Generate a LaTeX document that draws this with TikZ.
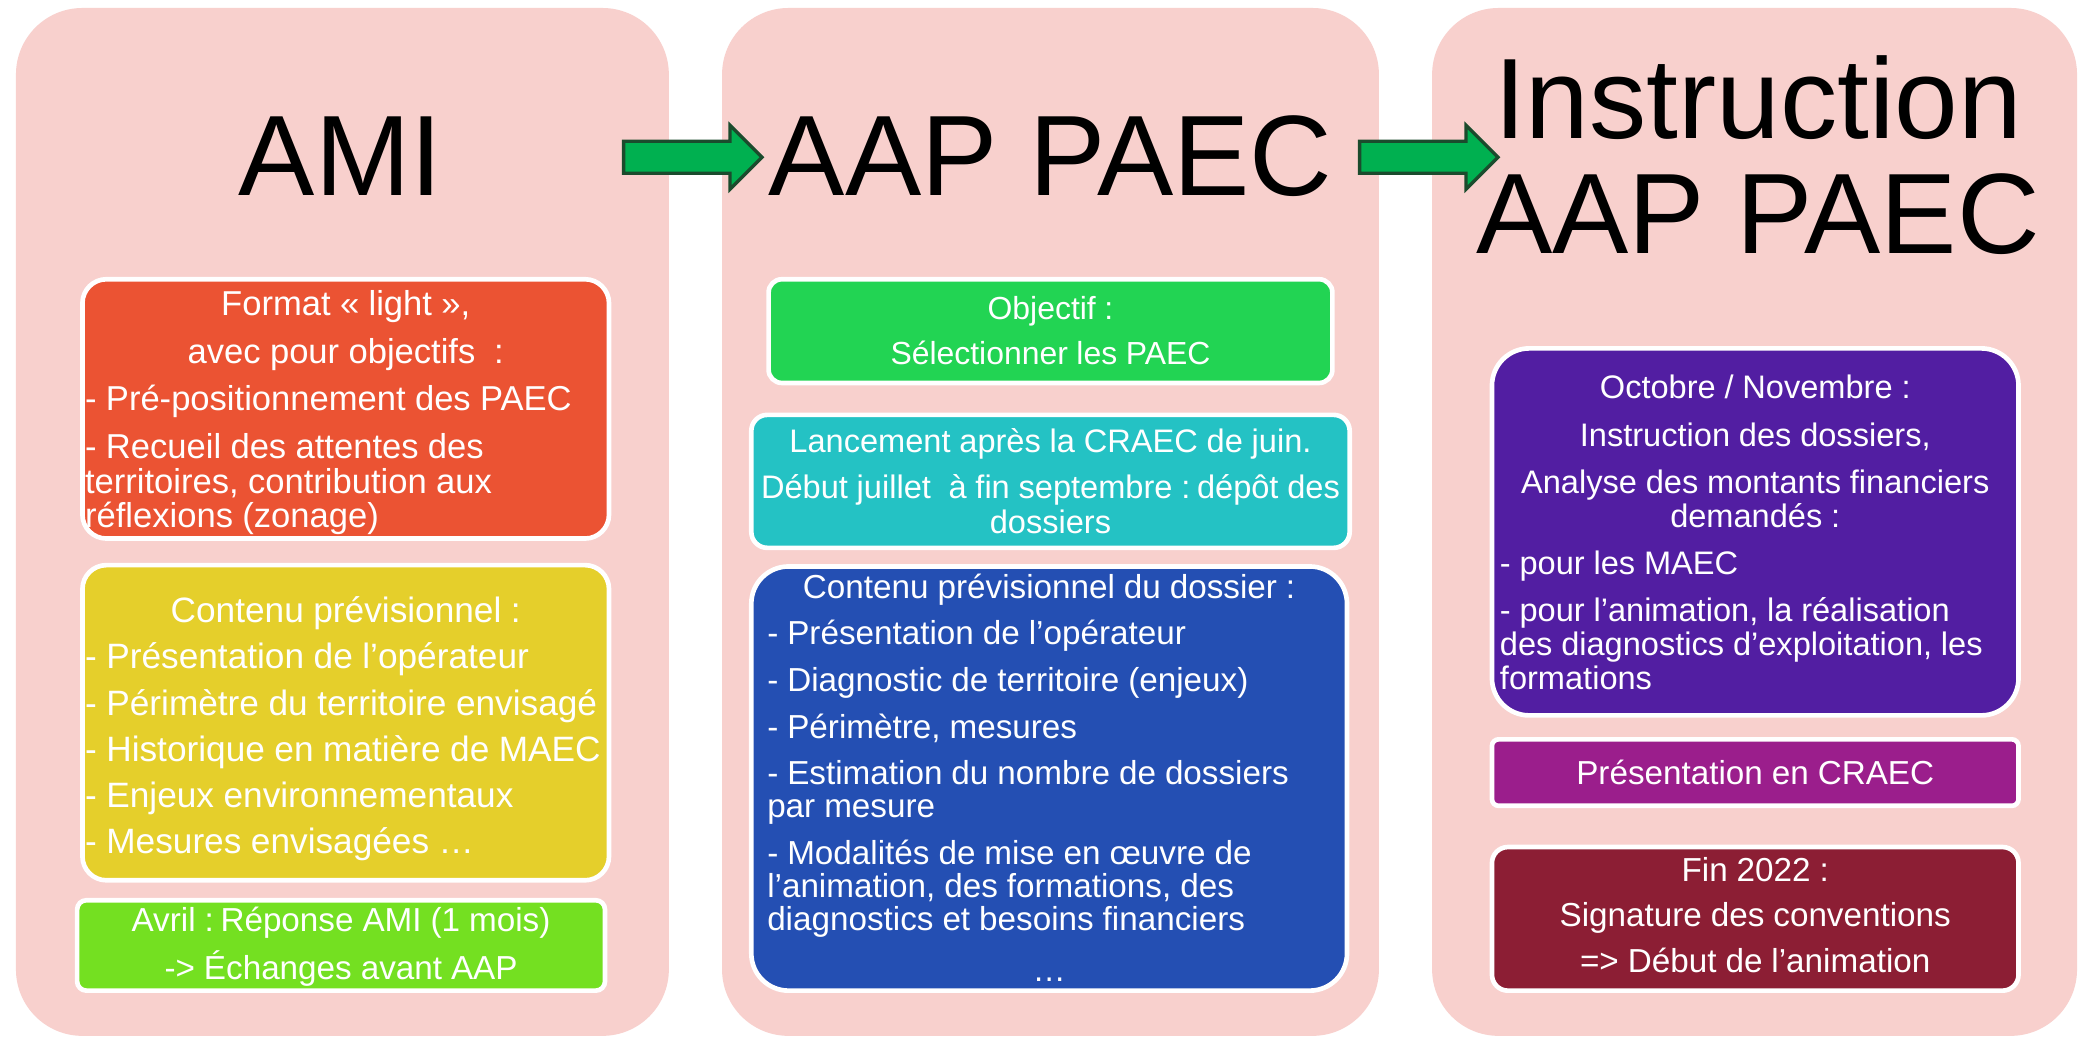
\documentclass[tikz,border=0pt]{standalone}
\usepackage{fontspec}
\setmainfont{Liberation Sans}
\newfontfamily\boxfont{Liberation Sans}
\usetikzlibrary{shapes.arrows}
\definecolor{panelpink}{HTML}{F8D0CD}
\definecolor{cred}{HTML}{EB5333}
\definecolor{cyellow}{HTML}{E5CF2B}
\definecolor{clgreen}{HTML}{74E021}
\definecolor{cgreen}{HTML}{22D453}
\definecolor{cteal}{HTML}{24C2C4}
\definecolor{cblue}{HTML}{244FB3}
\definecolor{cpurple}{HTML}{521EA2}
\definecolor{cmagenta}{HTML}{9B1E8C}
\definecolor{cmaroon}{HTML}{8C1E34}
\definecolor{arrowfill}{HTML}{00B050}
\definecolor{arrowline}{HTML}{1B4B2D}
\tikzset{
  panel/.style={fill=panelpink, rounded corners=50pt, inner sep=0pt, outer sep=0pt, minimum width=#1, minimum height=773pt},
  cbox/.style={draw=white, line width=3.5pt, inner sep=0pt, outer sep=0pt},
  title/.style={font=\fontsize{86}{89}\selectfont, text=black, inner sep=0pt, align=center},
  txt/.style={anchor=north, inner sep=0pt, outer sep=0pt, text=white, text width=#1},
  flow/.style={single arrow, single arrow head extend=12pt, single arrow tip angle=90, fill=arrowfill, draw=arrowline, line width=2.5pt, inner xsep=0pt, inner ysep=10.75pt, minimum height=104pt, outer sep=0pt},
}
\newcommand{\fsz}[3]{\fontsize{#1}{#2}\selectfont\spaceskip=0.27em plus 0.05em minus 0.02em\relax\setlength{\parskip}{#3}\setlength{\parindent}{0pt}\vrule height #1pt depth 0pt width 0pt}
\newcommand{\ol}[1]{\mbox{#1}}
\begin{document}
\begin{tikzpicture}[x=1pt,y=-1pt]
\useasboundingbox (0,0) rectangle (1568,782);
\fill[white] (0,0) rectangle (1568,782);
% panels
\node[panel=491pt] (p1) at (257.5,392.5) {};
\node[panel=494pt] (p2) at (790,392.5) {};
\node[panel=485pt] (p3) at (1319.5,392.5) {};
% titles
\node[title, anchor=base] (t1) at (256,147) {AMI};
\node[title, anchor=base] (t2) at (790,147) {AAP PAEC};
\node[title, anchor=base] (t3a) at (1322,104) {Instruction};
\node[title, anchor=base] (t3b) at (1322,191) {AAP PAEC};
% arrows
\node[flow] (a1) at (515,118.25) {};
\node[flow] (a2) at (1068.5,118.25) {};
% panel 1 boxes
\node[cbox, fill=cred, rounded corners=18pt, minimum width=396pt, minimum height=195pt] (b1) at (260,307.5) {};
\node[cbox, fill=cyellow, rounded corners=18pt, minimum width=396pt, minimum height=237pt] (b2) at (260,543.5) {};
\node[cbox, fill=clgreen, rounded corners=7pt, minimum width=397pt, minimum height=68pt] (b3) at (256.5,711) {};
% panel 2 boxes
\node[cbox, fill=cgreen, rounded corners=10pt, minimum width=424pt, minimum height=78pt] (b4) at (790,249) {};
\node[cbox, fill=cteal, rounded corners=12pt, minimum width=450pt, minimum height=100pt] (b5) at (790,362) {};
\node[cbox, fill=cblue, rounded corners=28pt, minimum width=448pt, minimum height=319pt] (b6) at (789,585.5) {};
% panel 3 boxes
\node[cbox, fill=cpurple, rounded corners=28pt, minimum width=396pt, minimum height=276pt] (b7) at (1320,400) {};
\node[cbox, fill=cmagenta, rounded corners=5pt, minimum width=396pt, minimum height=50pt] (b8) at (1320,581) {};
\node[cbox, fill=cmaroon, rounded corners=12pt, minimum width=396pt, minimum height=108pt] (b9) at (1320,691) {};
% texts
\node[txt=392pt] (x1) at (260,211) {\boxfont\fsz{26}{26}{10pt}\centering \ol{Format «~light~»,}\par \ol{avec pour objectifs~~:}\par\raggedright \ol{- Pré-positionnement des PAEC}\par \ol{- Recueil des attentes des}\\\ol{territoires, contribution aux}\\\ol{réflexions (zonage)}\par};
\node[txt=392pt] (x2) at (260,442) {\boxfont\fsz{26.5}{30}{4.6pt}\centering \ol{Contenu prévisionnel :}\par\raggedright \ol{- Présentation de l’opérateur}\par \ol{- Périmètre du territoire envisagé}\par \ol{- Historique en matière de MAEC}\par \ol{- Enjeux environnementaux}\par \ol{- Mesures envisagées …}\par};
\node[txt=392pt] (x3) at (256.5,675.5) {\boxfont\fsz{25}{36}{0pt}\centering \ol{Avril : Réponse AMI (1 mois)}\\\ol{-> Échanges avant AAP}\par};
\node[txt=420pt] (x4) at (790,216) {\boxfont\fsz{24}{34}{0pt}\centering \ol{Objectif :}\\\ol{Sélectionner les PAEC}\par};
\node[txt=446pt] (x5) at (790,315.5) {\boxfont\fsz{24.5}{26}{9pt}\centering \ol{Lancement après la CRAEC de juin.}\par \ol{Début juillet~ à fin septembre : dépôt des}\\\ol{dossiers}\par};
\node[txt=424pt] (x6) at (789,425) {\boxfont\fsz{25}{25}{10pt}\centering \ol{Contenu prévisionnel du dossier :}\par\raggedright \ol{- Présentation de l’opérateur}\par \ol{- Diagnostic de territoire (enjeux)}\par \ol{- Périmètre, mesures}\par \ol{- Estimation du nombre de dossiers}\\\ol{par mesure}\par \ol{- Modalités de mise en œuvre de}\\\ol{l’animation, des formations, des}\\\ol{diagnostics et besoins financiers}\par\vspace{3pt}\centering …\par};
\node[txt=384pt] (x7) at (1320,275.5) {\boxfont\fsz{24.5}{25.5}{10pt}\centering \ol{Octobre / Novembre :}\par \ol{Instruction des dossiers,}\par \ol{Analyse des montants financiers}\\\ol{demandés :}\par\raggedright \ol{- pour les MAEC}\par \ol{- pour l’animation, la réalisation}\\\ol{des diagnostics d’exploitation, les}\\\ol{formations}\par};
\node[txt=392pt] (x8) at (1320,565) {\boxfont\fsz{25}{26}{0pt}\centering \ol{Présentation en CRAEC}\par};
\node[txt=392pt] (x9) at (1320,638) {\boxfont\fsz{25}{34}{0pt}\centering \ol{Fin 2022 :}\\\ol{Signature des conventions}\\\ol{=> Début de l’animation}\par};
\end{tikzpicture}
\end{document}
